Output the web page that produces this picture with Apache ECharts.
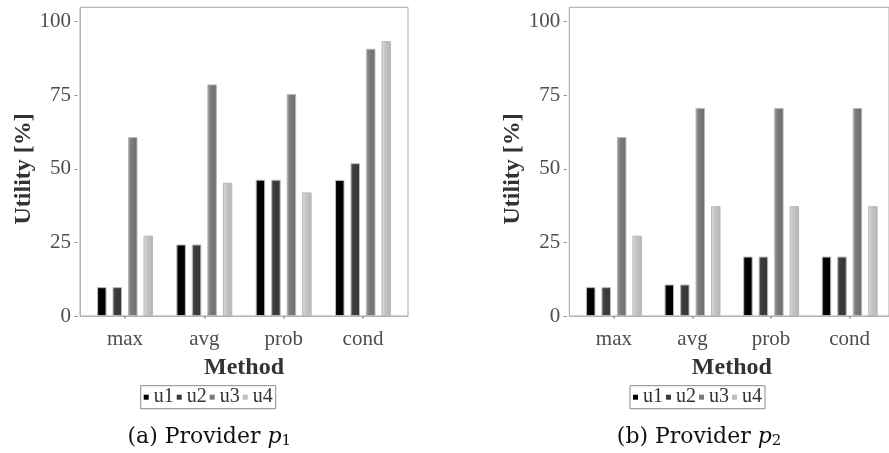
<!DOCTYPE html>
<html>
<head>
<meta charset="utf-8">
<script src="https://cdn.jsdelivr.net/npm/echarts@6/dist/echarts.min.js"></script>
<style>html,body{margin:0;padding:0;background:#fff;}#c{width:889px;height:453px;}</style>
</head>
<body>
<div id="c"></div>
<script>
const categories = ['max', 'avg', 'prob', 'cond'];
const seriesNames = ['u1', 'u2', 'u3', 'u4'];
const yTicks = [0, 25, 50, 75, 100];
// Provider p1
const p1u1 = [9.8, 24.3, 46.3, 46.2];
const p1u2 = [9.8, 24.3, 46.3, 51.9];
const p1u3 = [60.8, 78.7, 75.4, 90.8];
const p1u4 = [27.3, 45.3, 42.0, 93.4];
// Provider p2
const p2u1 = [9.8, 10.7, 20.2, 20.2];
const p2u2 = [9.8, 10.7, 20.2, 20.2];
const p2u3 = [60.8, 70.7, 70.7, 70.7];
const p2u4 = [27.3, 37.3, 37.3, 37.3];
const captions = ['(a) Provider {i|p}{s|1}', '(b) Provider {i|p}{s|2}'];

const SERIF = "'Liberation Serif', 'Times New Roman', serif";
const CAP = "'DejaVu Serif', serif";
const fills = [
  {type:'linear',x:0,y:0,x2:1,y2:0,colorStops:[{offset:0,color:'#1a1a1a'},{offset:0.3,color:'#000'},{offset:1,color:'#000'}]},
  {type:'linear',x:0,y:0,x2:1,y2:0,colorStops:[{offset:0,color:'#5a5a5a'},{offset:0.3,color:'#3c3c3c'},{offset:1,color:'#363636'}]},
  {type:'linear',x:0,y:0,x2:1,y2:0,colorStops:[{offset:0,color:'#a0a0a0'},{offset:0.35,color:'#7c7c7c'},{offset:1,color:'#6c6c6c'}]},
  {type:'linear',x:0,y:0,x2:1,y2:0,colorStops:[{offset:0,color:'#dedede'},{offset:0.4,color:'#c4c4c4'},{offset:1,color:'#b4b4b4'}]}
];
const legendColors = ['#000', '#3a3a3a', '#7a7a7a', '#bdbdbd'];

const shift = 489.3;
const panel = {left: 80, top: 7.3, width: 328, height: 308.7};
const data = {left: 85.35, top: 21.7, width: 317.3, height: 294.3};

const grids = [], xAxes = [], yAxes = [], series = [], legends = [], titles = [];
[[p1u1,p1u2,p1u3,p1u4],[p2u1,p2u2,p2u3,p2u4]].forEach((vals, k) => {
  const dx = k * shift;
  grids.push({left: panel.left + dx, top: panel.top, width: panel.width, height: panel.height,
    show: true, borderColor: '#a8a8a8', borderWidth: 1, backgroundColor: '#fff'});
  grids.push({left: data.left + dx, top: data.top, width: data.width, height: data.height});
  const pg = 2*k, dg = 2*k + 1;
  xAxes.push({gridIndex: pg, type: 'value', min: 0, max: 1, offset: 2.5,
    axisLine: {show: true, lineStyle: {color: '#b4b4b4', width: 1}},
    axisTick: {show: false}, axisLabel: {show: false}, splitLine: {show: false}});
  yAxes.push({gridIndex: pg, type: 'value', min: 0, max: 1, offset: 2.5,
    axisLine: {show: true, lineStyle: {color: '#b4b4b4', width: 1}},
    axisTick: {show: false}, axisLabel: {show: false}, splitLine: {show: false}});
  xAxes.push({gridIndex: dg, type: 'category', data: categories, offset: 2.5,
    axisLine: {show: false},
    axisTick: {show: true, alignWithLabel: true, length: 2.5, lineStyle: {color: '#8c8c8c', width: 1.5}},
    axisLabel: {margin: 10, fontFamily: SERIF, fontSize: 21, color: '#4d4d4d'},
    name: 'Method', nameLocation: 'middle', nameGap: 37,
    nameTextStyle: {fontFamily: SERIF, fontSize: 24, fontWeight: 'bold', color: '#333'}});
  yAxes.push({gridIndex: dg, type: 'value', min: yTicks[0], max: yTicks[yTicks.length-1], interval: 25,
    offset: data.left - 77.5,
    axisLine: {show: false},
    axisTick: {show: true, length: 3, lineStyle: {color: '#8c8c8c', width: 1}},
    axisLabel: {margin: 6.5, fontFamily: SERIF, fontSize: 21, color: '#4d4d4d'},
    splitLine: {show: false},
    name: 'Utility [%]', nameLocation: 'middle', nameGap: 39,
    nameTextStyle: {fontFamily: SERIF, fontSize: 24, fontWeight: 'bold', color: '#333'}});
  vals.forEach((v, i) => {
    series.push({type: 'bar', name: seriesNames[i], xAxisIndex: dg, yAxisIndex: dg, data: v,
      barWidth: 9.5, barGap: '63%', animation: false,
      itemStyle: {color: fills[i], borderColor: '#b8b8b8', borderWidth: 1},
      emphasis: {disabled: true}});
  });
  legends.push({data: seriesNames.map((n, i) => ({name: n, itemStyle: {color: legendColors[i], borderWidth: 0}})),
    left: 140.7 + dx, top: 385.7, orient: 'horizontal', selectedMode: false,
    icon: 'rect', itemWidth: 5, itemHeight: 5, itemGap: 3,
    padding: [1.5, 3], borderColor: '#8a8a8a', borderWidth: 1,
    textStyle: {fontFamily: SERIF, fontSize: 20, color: '#333'}});
  titles.push({text: captions[k], left: 122.5 + dx, top: 421,
    textStyle: {fontFamily: CAP, fontSize: 22, fontWeight: 'normal', color: '#111',
      rich: {i: {fontFamily: CAP, fontStyle: 'italic', fontSize: 22, color: '#111'},
             s: {fontFamily: CAP, fontSize: 15, color: '#111', verticalAlign: 'bottom', padding: [8, 0, 0, 0]}}}});
});

const chart = echarts.init(document.getElementById('c'), null, {renderer: 'canvas'});
chart.setOption({
  backgroundColor: '#fff',
  animation: false,
  title: titles,
  legend: legends,
  grid: grids,
  xAxis: xAxes,
  yAxis: yAxes,
  series: series
});
</script>
</body>
</html>
